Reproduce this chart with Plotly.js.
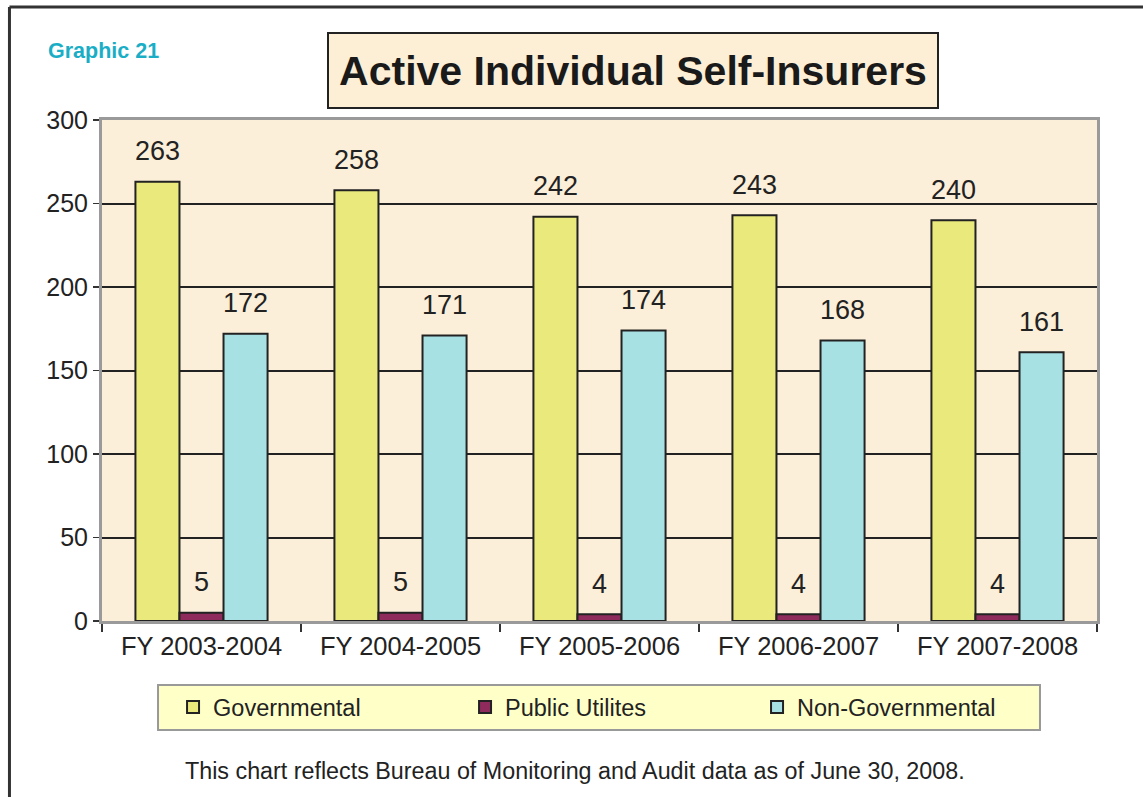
<!DOCTYPE html>
<html>
<head>
<meta charset="utf-8">
<script src="https://cdn.plot.ly/plotly-3.0.1.min.js"></script>
<style>html,body{margin:0;padding:0;background:#fff;}#chart{width:1143px;height:797px;}</style>
</head>
<body>
<div id="chart"></div>
<script>
const categories = ["FY 2003-2004", "FY 2004-2005", "FY 2005-2006", "FY 2006-2007", "FY 2007-2008"];
const governmental = [263, 258, 242, 243, 240];
const publicUtilities = [5, 5, 4, 4, 4];
const nonGovernmental = [172, 171, 174, 168, 161];
const seriesNames = ["Governmental", "Public Utilites", "Non-Governmental"];
const yTicks = [0, 50, 100, 150, 200, 250, 300];

const FONT = "Liberation Sans, Arial, Helvetica, sans-serif";
const colors = ["#eaea7c", "#8e2a5c", "#a8e1e4"];
const series = [governmental, publicUtilities, nonGovernmental];

const bars = series.map((vals, i) => ({
  type: "bar",
  name: seriesNames[i],
  x: categories,
  y: vals,
  marker: {color: colors[i], line: {color: "#222", width: 2}},
  hoverinfo: "x+y+name"
}));

const labels = series.map((vals, i) => ({
  type: "scatter",
  mode: "markers+text",
  x: categories,
  y: vals,
  text: vals.map(String),
  textposition: "top center",
  textfont: {family: FONT, size: 27, color: "#222"},
  marker: {size: 22, color: "rgba(0,0,0,0)"},
  showlegend: false,
  hoverinfo: "skip",
  cliponaxis: false
}));

const layout = {
  width: 1143, height: 797,
  margin: {l: 102, r: 46, t: 120, b: 176},
  paper_bgcolor: "#ffffff",
  plot_bgcolor: "#fcefd9",
  font: {family: FONT, color: "#222"},
  barmode: "group",
  bargap: 0.336,
  bargroupgap: 0,
  scattermode: "group",
  showlegend: true,
  legend: {
    orientation: "h",
    x: 0.0714, xanchor: "left",
    y: -0.128, yanchor: "top",
    bgcolor: "rgba(0,0,0,0)", borderwidth: 0,
    font: {family: FONT, size: 23.5, color: "#222"},
    entrywidth: 247,
    itemwidth: 30
  },
  xaxis: {
    type: "category",
    showline: true, linecolor: "#9a9a9a", linewidth: 3, mirror: true,
    ticks: "outside", tickson: "boundaries", ticklen: 8, tickcolor: "#333", tickwidth: 1.5,
    tickfont: {family: FONT, size: 25.5, color: "#222"},
    showgrid: false, zeroline: false
  },
  yaxis: {
    range: [0, 300],
    tickvals: yTicks,
    showline: true, linecolor: "#9a9a9a", linewidth: 3, mirror: true,
    ticks: "outside", ticklen: 6, tickcolor: "#333", tickwidth: 1.5,
    tickfont: {family: FONT, size: 25, color: "#222"},
    showgrid: true, gridcolor: "#222", gridwidth: 2,
    zeroline: false
  },
  annotations: [
    {
      text: "<b>Active Individual Self-Insurers</b>",
      xref: "paper", yref: "paper", x: 0.5337, y: 1.0988,
      xanchor: "center", yanchor: "middle", showarrow: false,
      font: {family: FONT, size: 41, color: "#1a1a1a"},
      bgcolor: "#fcefd6", bordercolor: "#222", borderwidth: 2, borderpad: 4,
      width: 600, height: 65
    },
    {
      text: "<b>Graphic 21</b>",
      xref: "paper", yref: "paper", x: -0.0563, y: 1.1377,
      xanchor: "left", yanchor: "middle", showarrow: false,
      font: {family: FONT, size: 21.5, color: "#1aaec6"}
    },
    {
      text: "This chart reflects Bureau of Monitoring and Audit data as of June 30, 2008.",
      xref: "paper", yref: "paper", x: 0.4754, y: -0.2994,
      xanchor: "center", yanchor: "middle", showarrow: false,
      font: {family: FONT, size: 23.3, color: "#222"}
    }
  ],
  shapes: [
    {type: "rect", xref: "paper", yref: "paper", x0: 0.0563, x1: 0.9427, y0: -0.1277, y1: -0.2176,
     fillcolor: "#ffffc8", line: {color: "#999", width: 2}, layer: "below"},
    {type: "line", xref: "paper", yref: "paper", x0: -0.0930, x1: 1.05, y0: 1.2255, y1: 1.2255, line: {color: "#333", width: 3}},
    {type: "line", xref: "paper", yref: "paper", x0: -0.0930, x1: -0.0930, y0: 1.2255, y1: -0.36, line: {color: "#333", width: 3}}
  ]
};

Plotly.newPlot("chart", bars.concat(labels), layout, {displayModeBar: false, staticPlot: true});
</script>
</body>
</html>
